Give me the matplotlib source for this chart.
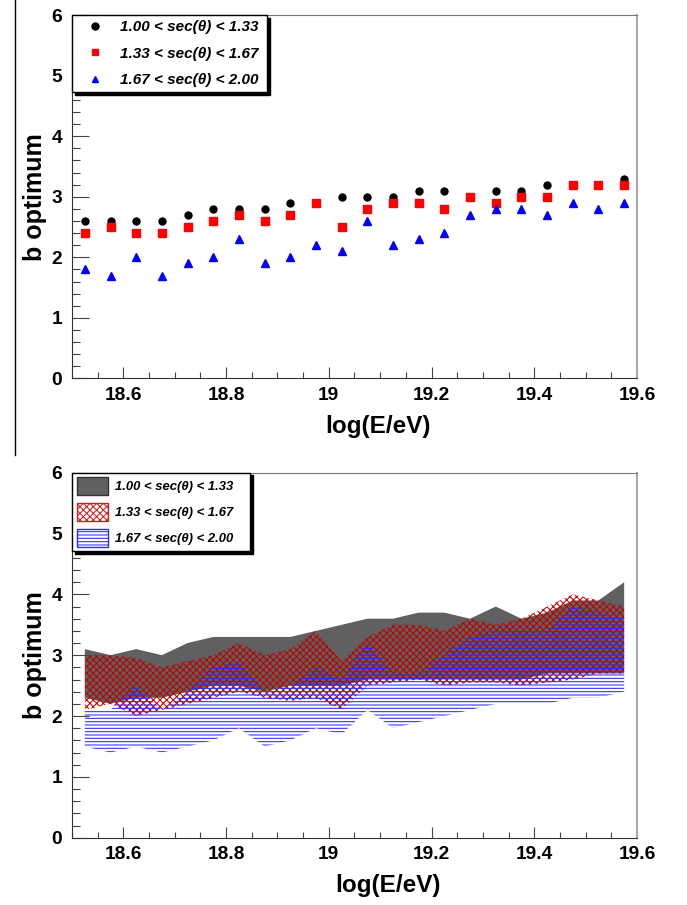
import matplotlib
matplotlib.use('Agg')
import matplotlib.pyplot as plt
from matplotlib.patches import Patch
from matplotlib.lines import Line2D
from matplotlib.ticker import MultipleLocator, FuncFormatter

plt.rcParams['font.family'] = ['Liberation Sans', 'DejaVu Sans']
plt.rcParams['hatch.linewidth'] = 0.75

#-bin centres in log(E/eV)
log_e = [18.525, 18.575, 18.625, 18.675, 18.725, 18.775, 18.825, 18.875, 18.925, 18.975, 19.025,
         19.075, 19.125, 19.175, 19.225, 19.275, 19.325, 19.375, 19.425, 19.475, 19.525, 19.575]

labels = ['1.00 < sec(θ) < 1.33', '1.33 < sec(θ) < 1.67', '1.67 < sec(θ) < 2.00']

#-b optimum per zenith bin (top panel)
b_opt_1 = [2.6, 2.6, 2.6, 2.6, 2.7, 2.8, 2.8, 2.8, 2.9, 2.9, 3.0, 3.0, 3.0, 3.1, 3.1, 3.0, 3.1, 3.1, 3.2, 3.2, 3.2, 3.3]
b_opt_2 = [2.4, 2.5, 2.4, 2.4, 2.5, 2.6, 2.7, 2.6, 2.7, 2.9, 2.5, 2.8, 2.9, 2.9, 2.8, 3.0, 2.9, 3.0, 3.0, 3.2, 3.2, 3.2]
b_opt_3 = [1.8, 1.7, 2.0, 1.7, 1.9, 2.0, 2.3, 1.9, 2.0, 2.2, 2.1, 2.6, 2.2, 2.3, 2.4, 2.7, 2.8, 2.8, 2.7, 2.9, 2.8, 2.9]

#-b optimum bands (bottom panel)
band_1_lo = [2.3, 2.2, 2.3, 2.3, 2.4, 2.5, 2.5, 2.4, 2.5, 2.5, 2.5, 2.6, 2.6, 2.6, 2.6, 2.6, 2.6, 2.6, 2.7, 2.7, 2.7, 2.7]
band_1_hi = [3.1, 3.0, 3.1, 3.0, 3.2, 3.3, 3.3, 3.3, 3.3, 3.4, 3.5, 3.6, 3.6, 3.7, 3.7, 3.6, 3.8, 3.6, 3.7, 3.9, 3.9, 4.2]
band_2_lo = [2.1, 2.2, 2.0, 2.1, 2.2, 2.3, 2.4, 2.3, 2.25, 2.3, 2.1, 2.5, 2.55, 2.6, 2.5, 2.55, 2.55, 2.5, 2.55, 2.6, 2.7, 2.7]
band_2_hi = [3.0, 3.0, 2.95, 2.8, 2.9, 3.0, 3.2, 3.0, 3.1, 3.4, 2.9, 3.3, 3.5, 3.5, 3.4, 3.6, 3.5, 3.6, 3.8, 4.0, 3.9, 3.8]
band_3_lo = [1.5, 1.4, 1.5, 1.4, 1.5, 1.6, 1.8, 1.5, 1.6, 1.8, 1.7, 2.1, 1.8, 1.9, 2.0, 2.1, 2.2, 2.2, 2.2, 2.3, 2.3, 2.4]
band_3_hi = [2.1, 2.1, 2.5, 2.1, 2.4, 2.8, 2.9, 2.4, 2.5, 2.8, 2.6, 3.2, 2.7, 2.7, 3.0, 3.3, 3.4, 3.4, 3.4, 3.8, 3.7, 3.6]

W, H = 687., 905.
fig = plt.figure(figsize=(W / 100, H / 100), dpi=100)
ax1 = fig.add_axes([72 / W, (H - 378.5) / H, 565 / W, 363.5 / H])
ax2 = fig.add_axes([72 / W, (H - 837.7) / H, 565 / W, 365 / H])


def style_axes(ax, xlab_x, xlab_y):
    ax.set_xlim(18.5, 19.6)
    ax.set_ylim(0, 6)
    ax.xaxis.set_major_locator(MultipleLocator(0.2))
    ax.xaxis.set_minor_locator(MultipleLocator(0.05))
    ax.yaxis.set_major_locator(MultipleLocator(1))
    ax.yaxis.set_minor_locator(MultipleLocator(0.2))
    ax.xaxis.set_major_formatter(FuncFormatter(lambda v, p: '%g' % round(v, 2)))
    ax.yaxis.set_major_formatter(FuncFormatter(lambda v, p: '%g' % round(v, 2)))
    ax.tick_params(which='both', direction='in', top=False, right=False, color='#444444', width=0.8)
    ax.tick_params(axis='y', which='major', length=12.2, pad=7, labelsize=13.8)
    ax.tick_params(axis='y', which='minor', length=6.1)
    ax.tick_params(axis='x', which='major', length=7.9, pad=6, labelsize=13.8)
    ax.tick_params(axis='x', which='minor', length=4.0)
    for lab in ax.get_xticklabels() + ax.get_yticklabels():
        lab.set_fontweight('bold')
    ax.spines['left'].set_color('#333333')
    ax.spines['bottom'].set_color('#333333')
    ax.spines['top'].set_color('#777777')
    ax.spines['right'].set_color('#aaaaaa')
    ax.spines['right'].set_linewidth(1.5)
    ax.set_xlabel('log(E/eV)', fontsize=17.5, fontweight='bold')
    ax.set_ylabel('b optimum', fontsize=18, fontweight='bold')
    ax.xaxis.set_label_coords(xlab_x, xlab_y)
    ax.yaxis.set_label_coords(-0.045, 0.5)


#-Top panel: markers
ax1.plot(log_e, b_opt_1, ls='none', marker='o', ms=5.0, color='black', mec='black')
ax1.plot(log_e, b_opt_2, ls='none', marker='s', ms=5.3, color='red', mec='red')
ax1.plot(log_e, b_opt_3, ls='none', marker='^', ms=5.2, color='blue', mec='blue')
style_axes(ax1, 0.542, -0.1)

handles1 = [Line2D([], [], ls='none', marker='o', ms=5.0, color='black'),
            Line2D([], [], ls='none', marker='s', ms=5.0, color='red'),
            Line2D([], [], ls='none', marker='^', ms=5.0, color='blue')]
leg1 = ax1.legend(handles1, labels, loc='upper left', bbox_to_anchor=(0, 1, 195 / 565, 0), mode='expand',
                  borderaxespad=0, prop=dict(size=11, weight='bold', style='italic'), handlelength=2.36,
                  handletextpad=0.46, borderpad=0.34, labelspacing=0.82, fancybox=False,
                  edgecolor='black', framealpha=1,
                  shadow={'ox': 2, 'oy': -2, 'facecolor': 'black', 'edgecolor': 'black', 'alpha': 1})
leg1.get_frame().set_linewidth(1.0)

#-Bottom panel: bands
ax2.fill_between(log_e, band_1_lo, band_1_hi, facecolor='#606060', edgecolor='none', lw=0)
ax2.fill_between(log_e, band_2_lo, band_2_hi, facecolor='none', edgecolor='#c00000', hatch='xxxxx', lw=0)
ax2.fill_between(log_e, band_3_lo, band_3_hi, facecolor='none', edgecolor='#2a2aff', hatch='-----', lw=0)
style_axes(ax2, 0.559, -0.1)

handles2 = [Patch(facecolor='#606060', edgecolor='#333333'),
            Patch(facecolor='white', edgecolor='#d02020', hatch='xxxxx'),
            Patch(facecolor='white', edgecolor='#2a2aff', hatch='-----')]
leg2 = ax2.legend(handles2, labels, loc='upper left', bbox_to_anchor=(0, 1, 178 / 565, 0), mode='expand',
                  borderaxespad=0, prop=dict(size=9.4, weight='bold', style='italic'), handlelength=2.44,
                  handleheight=1.68, handletextpad=0.53, borderpad=0.35, labelspacing=0.65,
                  fancybox=False, edgecolor='black', framealpha=1,
                  shadow={'ox': 2, 'oy': -2, 'facecolor': 'black', 'edgecolor': 'black', 'alpha': 1})
leg2.get_frame().set_linewidth(1.0)

#-left border line of the upper picture
fig.add_artist(Line2D([14.5 / W, 14.5 / W], [1 - 455 / H, 1], transform=fig.transFigure, color='black', lw=1))

fig.savefig('out.png', dpi=100)
